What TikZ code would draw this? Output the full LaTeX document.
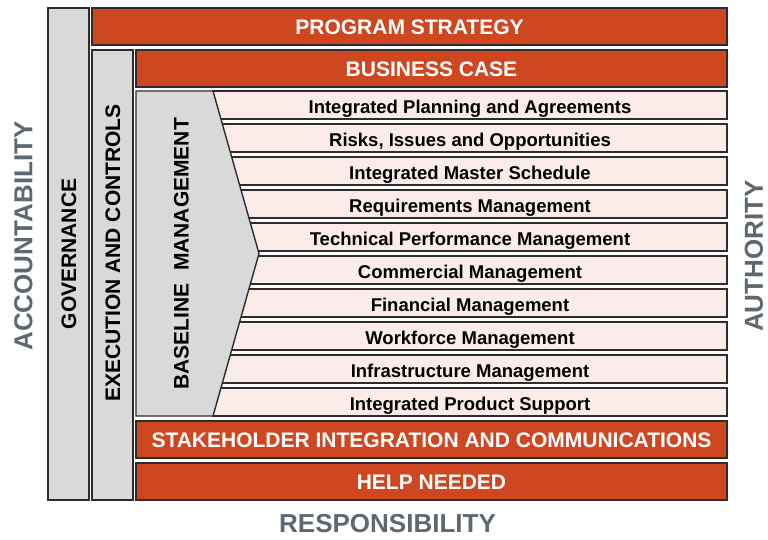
\documentclass[tikz,border=0pt]{standalone}
\usepackage{fontspec}
\setmainfont{Liberation Sans}
\definecolor{orng}{RGB}{207,71,33}
\definecolor{pnk}{RGB}{251,236,233}
\definecolor{gry}{RGB}{217,217,217}
\definecolor{edge}{RGB}{45,45,45}
\definecolor{lbl}{RGB}{94,104,113}
\begin{document}
\begin{tikzpicture}[x=1pt,y=-1pt,
  frame/.style={draw=edge, line width=1.4pt, inner sep=0pt, outer sep=0pt},
  redbox/.style={frame, fill=orng, text=white, font=\fontsize{21}{24}\selectfont\bfseries, text height=15pt, text depth=0pt, minimum height=37pt},
  rowbox/.style={frame, fill=pnk, text=black, font=\fontsize{18.5}{22}\selectfont\bfseries, text height=16pt, text depth=0pt, minimum width=514pt, minimum height=28pt},
  colbox/.style={frame, fill=gry, minimum width=41pt},
  coltext/.style={rotate=90, inner sep=0pt, font=\fontsize{21}{24}\selectfont\bfseries, text=black, text height=15pt, text depth=0pt},
  outerlbl/.style={inner sep=0pt, font=\fontsize{26}{30}\selectfont\bfseries, text=lbl, text height=18.6pt, text depth=0pt}]
\useasboundingbox (0,0) rectangle (768,539);
% columns
\node[colbox, minimum height=492pt] (gov) at (68.5,254) {};
\node[colbox, minimum height=450pt] (exec) at (112.5,275) {};
\node[coltext] (govt) at (68.5,254) {GOVERNANCE};
\node[coltext] (exect) at (112.5,253) {EXECUTION AND CONTROLS};
% red bars
\node[redbox, minimum width=635pt] (ps) at (409.5,26.5) {PROGRAM STRATEGY};
\node[redbox, minimum width=591pt] (bc) at (431.5,68.5) {BUSINESS CASE};
\node[redbox, minimum width=591pt] (sh) at (431.5,439.5) {STAKEHOLDER INTEGRATION AND COMMUNICATIONS};
\node[redbox, minimum width=591pt] (hn) at (431.5,481.5) {HELP NEEDED};
% rows
\node[rowbox] (r1) at (470,105) {Integrated Planning and Agreements};
\node[rowbox] (r2) at (470,138) {Risks, Issues and Opportunities};
\node[rowbox] (r3) at (470,171) {Integrated Master Schedule};
\node[rowbox] (r4) at (470,204) {Requirements Management};
\node[rowbox] (r5) at (470,237) {Technical Performance Management};
\node[rowbox] (r6) at (470,270) {Commercial Management};
\node[rowbox] (r7) at (470,303) {Financial Management};
\node[rowbox] (r8) at (470,336) {Workforce Management};
\node[rowbox] (r9) at (470,369) {Infrastructure Management};
\node[rowbox] (r10) at (470,402) {Integrated Product Support};
% baseline arrow
\filldraw[draw=edge, fill=gry, line width=1.4pt, line join=miter]
  (136,91) -- (213,91) -- (259,253.5) -- (213,416) -- (136,416) -- cycle;
\node[coltext] (bm) at (181,254) {BASELINE\hspace{7pt} MANAGEMENT};
% outer labels
\node[outerlbl, rotate=90] (acc) at (23,236) {ACCOUNTABILITY};
\node[outerlbl, rotate=90] (auth) at (753.5,256) {AUTHORITY};
\node[outerlbl] (resp) at (387.5,523) {RESPONSIBILITY};
\end{tikzpicture}
\end{document}
